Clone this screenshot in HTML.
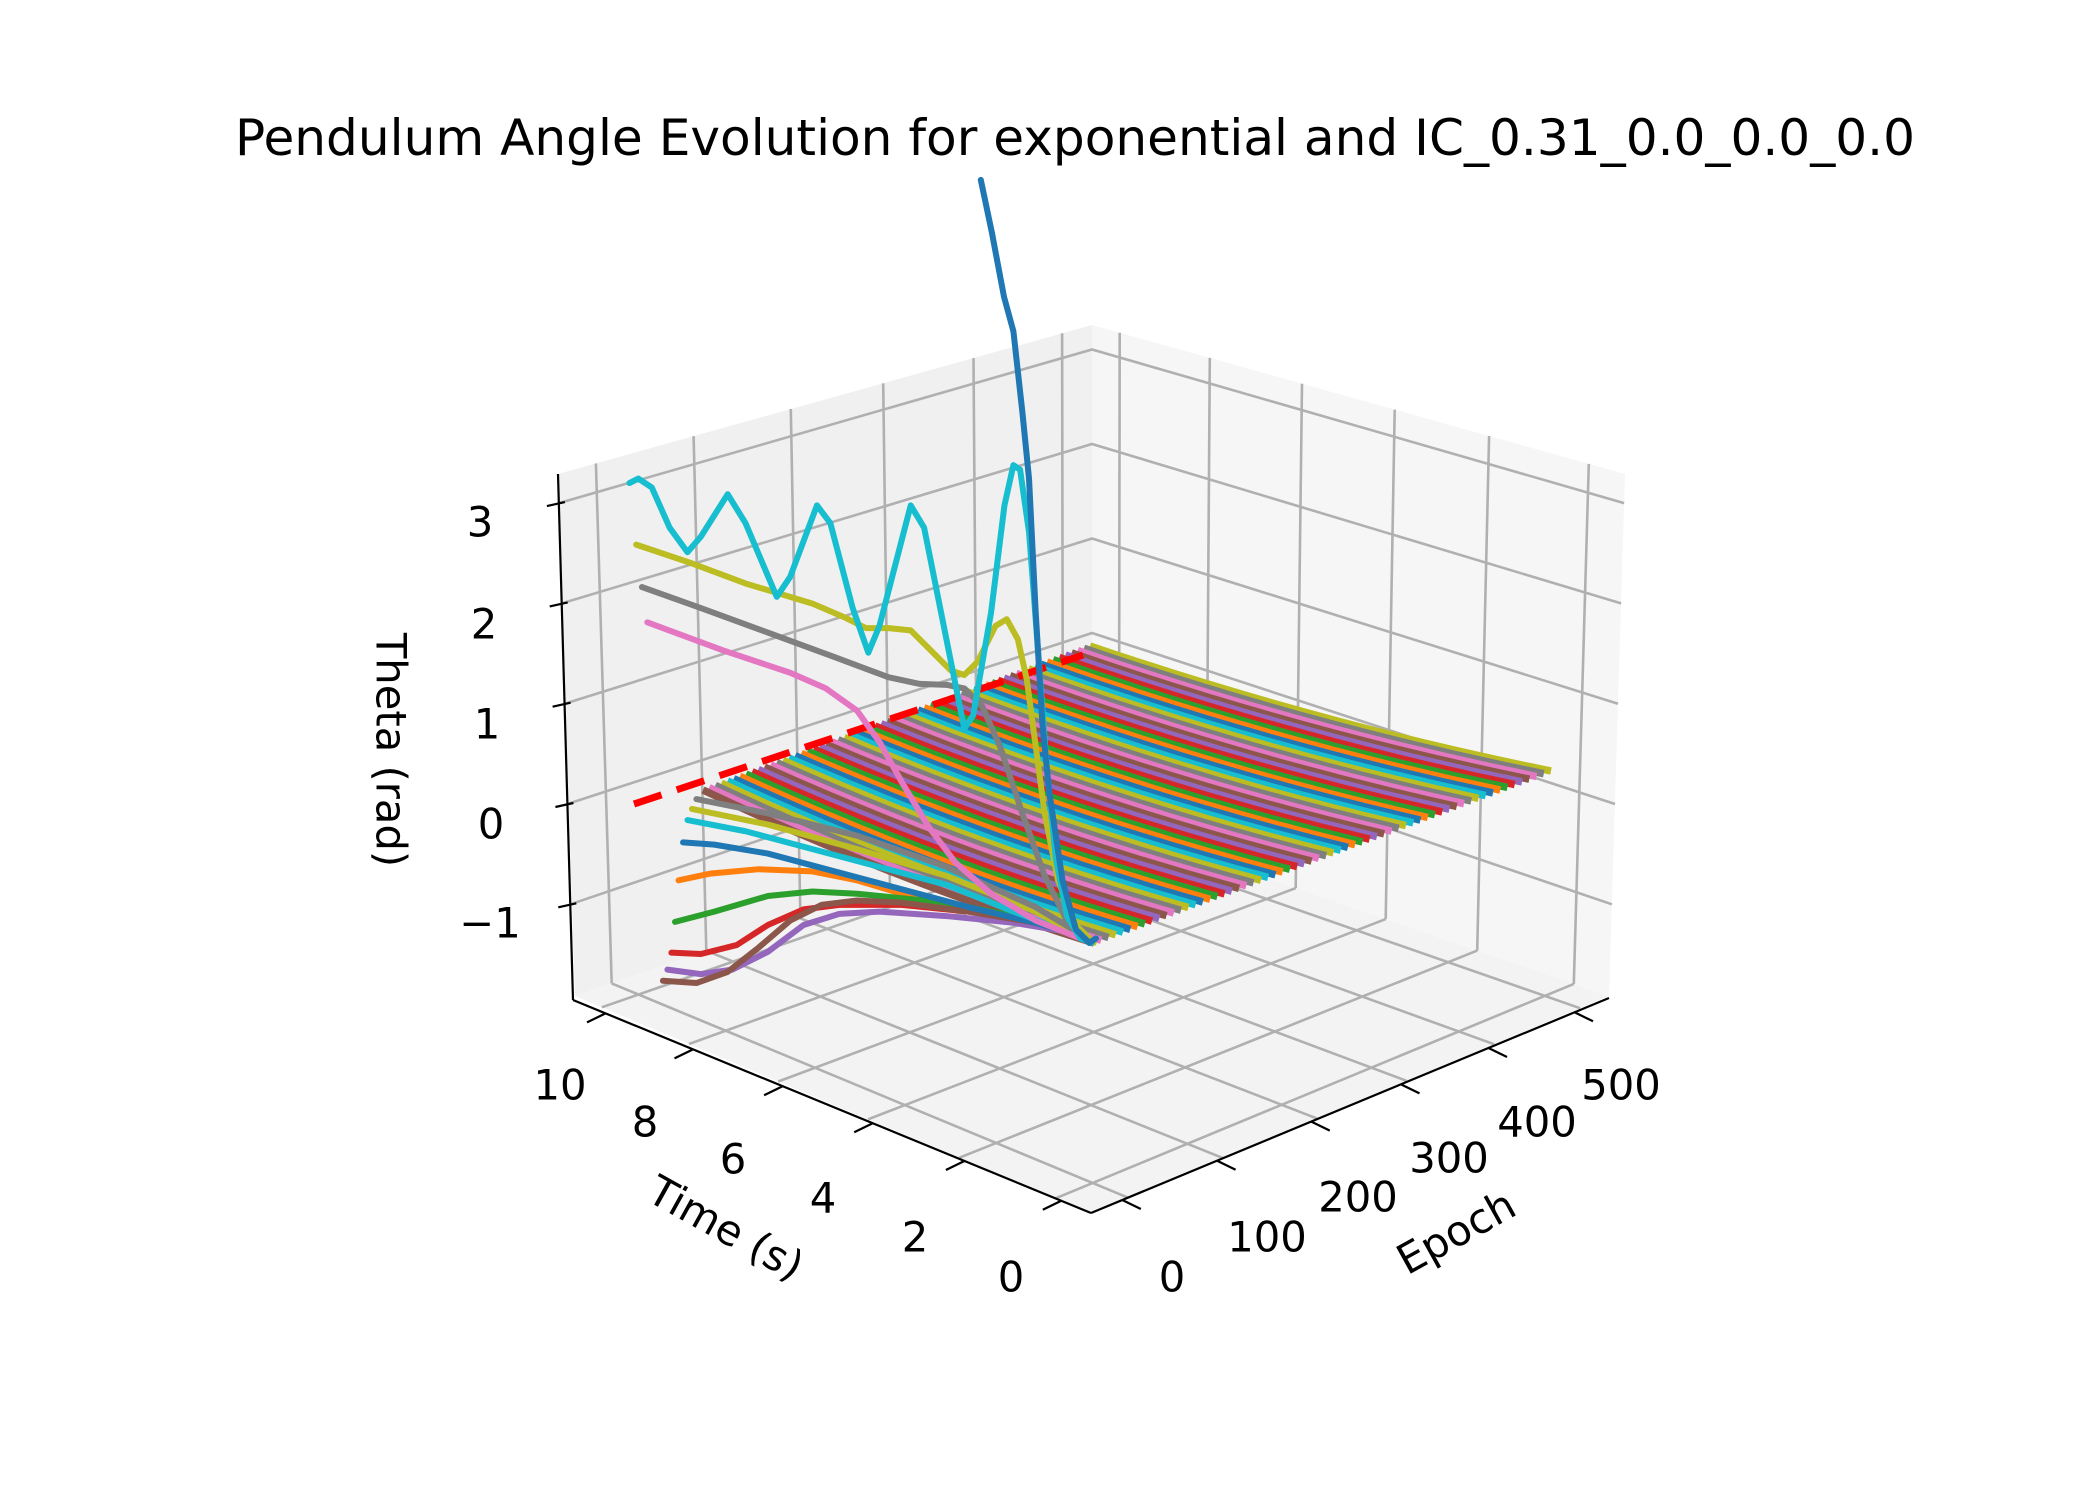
<!DOCTYPE html>
<html><head><meta charset="utf-8"><style>
html,body{margin:0;padding:0;background:#fff;}
svg{display:block;}
text{font-family:"DejaVu Sans","Liberation Sans",sans-serif;fill:#000;}
</style></head><body>
<svg xmlns="http://www.w3.org/2000/svg" width="2100" height="1500" viewBox="0 0 2100 1500">
<defs><path id="c" d="M0,0 Q0.5,16 1,0"/></defs>
<rect width="2100" height="1500" fill="#fff"/>
<polygon points="575,996 558,474 1092,325 1092,818" fill="#f0f0f0"/>
<polygon points="1092,818 1092,325 1625,474 1609,996" fill="#f6f6f6"/>
<polygon points="1091,1213 575,996 1092,818 1609,996" fill="#f3f3f3"/>
<g stroke="#b0b0b0" stroke-width="2.6" fill="none">
<line x1="1127.8" y1="1197.6" x2="611.7" y2="983.4"/><line x1="611.7" y1="983.4" x2="595.9" y2="463.4"/>
<line x1="1222.6" y1="1157.9" x2="706.3" y2="950.8"/><line x1="706.3" y1="950.8" x2="693.6" y2="436.2"/>
<line x1="1316.8" y1="1118.4" x2="800.4" y2="918.4"/><line x1="800.4" y1="918.4" x2="790.8" y2="409"/>
<line x1="1406.5" y1="1080.8" x2="889.9" y2="887.6"/><line x1="889.9" y1="887.6" x2="883.2" y2="383.3"/>
<line x1="1494" y1="1044.2" x2="977.2" y2="857.5"/><line x1="977.2" y1="857.5" x2="973.5" y2="358.1"/>
<line x1="1580" y1="1008.2" x2="1063" y2="828"/><line x1="1063" y1="828" x2="1062.1" y2="333.3"/>
<line x1="1055.9" y1="1198.2" x2="1573.8" y2="983.9"/><line x1="1573.8" y1="983.9" x2="1588.8" y2="463.9"/>
<line x1="959.4" y1="1157.7" x2="1477.2" y2="950.6"/><line x1="1477.2" y1="950.6" x2="1489.1" y2="436"/>
<line x1="868.1" y1="1119.3" x2="1385.7" y2="919.1"/><line x1="1385.7" y1="919.1" x2="1394.7" y2="409.6"/>
<line x1="778.3" y1="1081.5" x2="1295.7" y2="888.1"/><line x1="1295.7" y1="888.1" x2="1302" y2="383.7"/>
<line x1="689" y1="1044" x2="1206.3" y2="857.3"/><line x1="1206.3" y1="857.3" x2="1209.8" y2="357.9"/>
<line x1="601.8" y1="1007.3" x2="1118.9" y2="827.3"/><line x1="1118.9" y1="827.3" x2="1119.7" y2="332.7"/>
<polyline points="570.3,904.3 1092,727.5 1611.9,904.3"/>
<polyline points="567.4,804 1092,633 1615,804"/>
<polyline points="564.6,703.7 1092,538.5 1618,703.7"/>
<polyline points="561.7,603.4 1092,444 1621.1,603.4"/>
<polyline points="558.9,503.1 1092,349.5 1624.1,503.1"/>
</g>
<g stroke="#000" stroke-width="2.2" fill="none">
<line x1="1091" y1="1213" x2="573" y2="1000"/>
<line x1="1091" y1="1213" x2="1609" y2="998"/>
<line x1="573" y1="1000" x2="558" y2="474"/>
<line x1="1061.3" y1="1200.8" x2="1042.8" y2="1209.8"/>
<line x1="964.4" y1="1161" x2="945.9" y2="1170"/>
<line x1="872.7" y1="1123.3" x2="854.2" y2="1132.3"/>
<line x1="782.6" y1="1086.2" x2="764.1" y2="1095.2"/>
<line x1="693" y1="1049.4" x2="674.5" y2="1058.4"/>
<line x1="605.5" y1="1013.4" x2="587" y2="1022.4"/>
<line x1="1122.3" y1="1200" x2="1140.8" y2="1209"/>
<line x1="1217.1" y1="1160.7" x2="1235.6" y2="1169.7"/>
<line x1="1311.3" y1="1121.6" x2="1329.8" y2="1130.6"/>
<line x1="1401" y1="1084.4" x2="1419.5" y2="1093.4"/>
<line x1="1488.5" y1="1048" x2="1507" y2="1057"/>
<line x1="1574.5" y1="1012.3" x2="1593" y2="1021.3"/>
<line x1="558.3" y1="907.3" x2="576.3" y2="903.3"/>
<line x1="555.4" y1="807" x2="573.4" y2="803"/>
<line x1="552.6" y1="706.7" x2="570.6" y2="702.7"/>
<line x1="549.7" y1="606.4" x2="567.7" y2="602.4"/>
<line x1="546.9" y1="506.1" x2="564.9" y2="502.1"/>
</g>
<g fill="none" stroke-width="7.5">
<use href="#c" vector-effect="non-scaling-stroke" stroke="#bcbd22" transform="matrix(461,125,0,1,1090,646)"/>
<use href="#c" stroke="#7f7f7f" transform="matrix(459.9,125.4,0,1,1083.9,648.3)"/>
<use href="#c" stroke="#e377c2" transform="matrix(458.8,125.9,0,1,1077.7,650.6)"/>
<use href="#c" stroke="#8c564b" transform="matrix(457.7,126.3,0,1,1071.6,652.9)"/>
<use href="#c" stroke="#9467bd" transform="matrix(456.6,126.8,0,1,1065.4,655.1)"/>
<use href="#c" stroke="#d62728" transform="matrix(455.4,127.2,0,1,1059.3,657.4)"/>
<use href="#c" stroke="#2ca02c" transform="matrix(454.3,127.7,0,1,1053.1,659.7)"/>
<use href="#c" stroke="#ff7f0e" transform="matrix(453.2,128.1,0,1,1047,662)"/>
<use href="#c" stroke="#1f77b4" transform="matrix(452.1,128.6,0,1,1040.9,664.3)"/>
<use href="#c" stroke="#17becf" transform="matrix(451,129,0,1,1034.7,666.6)"/>
<use href="#c" stroke="#bcbd22" transform="matrix(449.9,129.4,0,1,1028.6,668.9)"/>
<use href="#c" stroke="#7f7f7f" transform="matrix(448.8,129.9,0,1,1022.4,671.1)"/>
<use href="#c" stroke="#e377c2" transform="matrix(447.7,130.3,0,1,1016.3,673.4)"/>
<use href="#c" stroke="#8c564b" transform="matrix(446.6,130.8,0,1,1010.1,675.7)"/>
<use href="#c" stroke="#9467bd" transform="matrix(445.4,131.2,0,1,1004,678)"/>
<use href="#c" stroke="#d62728" transform="matrix(444.3,131.7,0,1,997.9,680.3)"/>
<use href="#c" stroke="#2ca02c" transform="matrix(443.2,132.1,0,1,991.7,682.6)"/>
<use href="#c" stroke="#ff7f0e" transform="matrix(442.1,132.6,0,1,985.6,684.9)"/>
<use href="#c" stroke="#1f77b4" transform="matrix(441,133,0,1,979.4,687.1)"/>
<use href="#c" stroke="#17becf" transform="matrix(439.9,133.4,0,1,973.3,689.4)"/>
<use href="#c" stroke="#bcbd22" transform="matrix(438.8,133.9,0,1,967.1,691.7)"/>
<use href="#c" stroke="#7f7f7f" transform="matrix(437.7,134.3,0,1,961,694)"/>
<use href="#c" stroke="#e377c2" transform="matrix(436.6,134.8,0,1,954.9,696.3)"/>
<use href="#c" stroke="#8c564b" transform="matrix(435.4,135.2,0,1,948.7,698.6)"/>
<use href="#c" stroke="#9467bd" transform="matrix(434.3,135.7,0,1,942.6,700.9)"/>
<use href="#c" stroke="#d62728" transform="matrix(433.2,136.1,0,1,936.4,703.1)"/>
<use href="#c" stroke="#2ca02c" transform="matrix(432.1,136.6,0,1,930.3,705.4)"/>
<use href="#c" stroke="#ff7f0e" transform="matrix(431,137,0,1,924.1,707.7)"/>
<use href="#c" stroke="#1f77b4" transform="matrix(429.9,137.4,0,1,918,710)"/>
<use href="#c" stroke="#17becf" transform="matrix(428.8,137.9,0,1,911.9,712.3)"/>
<use href="#c" stroke="#bcbd22" transform="matrix(427.7,138.3,0,1,905.7,714.6)"/>
<use href="#c" stroke="#7f7f7f" transform="matrix(426.6,138.8,0,1,899.6,716.9)"/>
<use href="#c" stroke="#e377c2" transform="matrix(425.4,139.2,0,1,893.4,719.1)"/>
<use href="#c" stroke="#8c564b" transform="matrix(424.3,139.7,0,1,887.3,721.4)"/>
<use href="#c" stroke="#9467bd" transform="matrix(423.2,140.1,0,1,881.1,723.7)"/>
<use href="#c" stroke="#d62728" transform="matrix(422.1,140.6,0,1,875,726)"/>
<use href="#c" stroke="#2ca02c" transform="matrix(421,141,0,1,868.9,728.3)"/>
<use href="#c" stroke="#ff7f0e" transform="matrix(419.9,141.4,0,1,862.7,730.6)"/>
<use href="#c" stroke="#1f77b4" transform="matrix(418.8,141.9,0,1,856.6,732.9)"/>
<use href="#c" stroke="#17becf" transform="matrix(417.7,142.3,0,1,850.4,735.1)"/>
<use href="#c" stroke="#bcbd22" transform="matrix(416.6,142.8,0,1,844.3,737.4)"/>
<use href="#c" stroke="#7f7f7f" transform="matrix(415.4,143.2,0,1,838.1,739.7)"/>
<use href="#c" stroke="#e377c2" transform="matrix(414.3,143.7,0,1,832,742)"/>
<use href="#c" stroke="#8c564b" transform="matrix(413.2,144.1,0,1,825.9,744.3)"/>
<use href="#c" stroke="#9467bd" transform="matrix(412.1,144.6,0,1,819.7,746.6)"/>
<use href="#c" stroke="#d62728" transform="matrix(411,145,0,1,813.6,748.9)"/>
<use href="#c" stroke="#2ca02c" transform="matrix(409.9,145.4,0,1,807.4,751.1)"/>
<use href="#c" stroke="#ff7f0e" transform="matrix(408.8,145.9,0,1,801.3,753.4)"/>
<use href="#c" stroke="#1f77b4" transform="matrix(407.7,146.3,0,1,795.1,755.7)"/>
<use href="#c" stroke="#17becf" transform="matrix(406.6,146.8,0,1,789,758)"/>
<use href="#c" stroke="#bcbd22" transform="matrix(405.4,147.2,0,1,782.9,760.3)"/>
<use href="#c" stroke="#7f7f7f" transform="matrix(404.3,147.7,0,1,776.7,762.6)"/>
<use href="#c" stroke="#e377c2" transform="matrix(403.2,148.1,0,1,770.6,764.9)"/>
<use href="#c" stroke="#8c564b" transform="matrix(402.1,148.6,0,1,764.4,767.1)"/>
<use href="#c" stroke="#9467bd" transform="matrix(401,149,0,1,758.3,769.4)"/>
<use href="#c" stroke="#d62728" transform="matrix(399.9,149.4,0,1,752.1,771.7)"/>
<use href="#c" stroke="#2ca02c" transform="matrix(398.8,149.9,0,1,746,774)"/>
<use href="#c" stroke="#ff7f0e" transform="matrix(397.7,150.3,0,1,739.9,776.3)"/>
<use href="#c" stroke="#1f77b4" transform="matrix(396.6,150.8,0,1,733.7,778.6)"/>
<use href="#c" stroke="#17becf" transform="matrix(395.4,151.2,0,1,727.6,780.9)"/>
<use href="#c" stroke="#bcbd22" transform="matrix(394.3,151.7,0,1,721.4,783.1)"/>
<use href="#c" stroke="#7f7f7f" transform="matrix(393.2,152.1,0,1,715.3,785.4)"/>
<use href="#c" stroke="#e377c2" transform="matrix(392.1,152.6,0,1,709.1,787.7)"/>
<use href="#c" stroke="#8c564b" transform="matrix(391,153,0,1,703,790)"/>
</g>
<style>use{vector-effect:non-scaling-stroke;} #c{vector-effect:non-scaling-stroke;}</style>
<line x1="634" y1="804" x2="1083" y2="655" stroke="#ff0000" stroke-width="7" stroke-dasharray="29 16"/>
<g transform="translate(500 300) scale(0.44643)" fill="none" stroke-linejoin="round" stroke-linecap="round">
<polyline vector-effect="non-scaling-stroke" stroke-width="6" stroke="#ff7f0e" points="400,1300 470,1285 580,1275 700,1280 800,1300 900,1330 1000,1355 1100,1375 1200,1390 1300,1420"/>
<polyline vector-effect="non-scaling-stroke" stroke-width="6" stroke="#2ca02c" points="392,1393 480,1370 600,1335 700,1325 800,1330 900,1340 1000,1350 1100,1370 1200,1390 1300,1420"/>
<polyline vector-effect="non-scaling-stroke" stroke-width="6" stroke="#d62728" points="384,1462 450,1465 530,1445 600,1400 680,1365 760,1355 900,1355 1050,1370 1200,1395 1300,1420"/>
<polyline vector-effect="non-scaling-stroke" stroke-width="6" stroke="#9467bd" points="375,1500 450,1510 520,1500 600,1460 680,1400 760,1375 850,1370 1000,1380 1150,1395 1300,1420"/>
<polyline vector-effect="non-scaling-stroke" stroke-width="6" stroke="#8c564b" points="365,1525 440,1530 510,1505 580,1450 650,1390 720,1355 800,1345 900,1350 1050,1370 1200,1395 1300,1420"/>
<polyline vector-effect="non-scaling-stroke" stroke-width="6" stroke="#1f77b4" points="410,1215 480,1220 600,1240 750,1280 900,1320 1050,1360 1200,1395 1300,1425"/>
<polyline vector-effect="non-scaling-stroke" stroke-width="6" stroke="#17becf" points="420,1165 550,1190 700,1230 850,1270 1000,1310 1150,1370 1300,1425"/>
<polyline vector-effect="non-scaling-stroke" stroke-width="6" stroke="#bcbd22" points="430,1140 600,1175 800,1230 1000,1290 1200,1370 1300,1425"/>
<polyline vector-effect="non-scaling-stroke" stroke-width="6" stroke="#7f7f7f" points="440,1118 600,1150 800,1200 1000,1270 1200,1360 1300,1420"/>
<polyline vector-effect="non-scaling-stroke" stroke-width="6" stroke="#e377c2" points="330,722 500,785 650,835 730,870 800,920 850,990 900,1080 960,1180 1020,1260 1100,1330 1200,1390 1300,1430"/>
<polyline vector-effect="non-scaling-stroke" stroke-width="6" stroke="#7f7f7f" points="318,643 450,690 600,745 750,800 870,845 940,860 1000,862 1040,870 1080,910 1120,1000 1170,1150 1220,1290 1270,1390 1320,1440"/>
<polyline vector-effect="non-scaling-stroke" stroke-width="6" stroke="#bcbd22" points="305,548 430,590 550,635 700,680 770,710 820,735 870,735 920,740 970,790 1010,830 1040,840 1070,810 1110,730 1135,715 1160,760 1180,850 1200,1000 1220,1150 1250,1300 1290,1400 1330,1440"/>
<polyline vector-effect="non-scaling-stroke" stroke-width="6" stroke="#17becf" points="290,410 310,400 340,420 380,510 420,565 450,530 510,435 550,500 620,665 650,620 710,460 740,500 790,690 825,790 850,730 920,460 950,510 1000,760 1040,960 1060,930 1100,700 1130,460 1150,370 1165,380 1185,520 1195,650 1210,850 1225,1050 1245,1250 1270,1380 1300,1430 1325,1440"/>
<polyline vector-effect="non-scaling-stroke" stroke-width="6" stroke="#1f77b4" points="1077,-269 1102,-150 1129,-7 1150,70 1170,250 1185,400 1200,700 1215,950 1230,1100 1260,1300 1290,1410 1320,1440 1335,1430"/>
</g>
<g font-size="41.7" text-anchor="middle" dominant-baseline="central">
<text x="480" y="522">3</text>
<text x="484" y="624">2</text>
<text x="487" y="724">1</text>
<text x="491" y="824">0</text>
<text x="490" y="923">−1</text>
<text x="560" y="1085">10</text>
<text x="645" y="1122">8</text>
<text x="733" y="1159">6</text>
<text x="823" y="1198">4</text>
<text x="915" y="1237">2</text>
<text x="1011" y="1277">0</text>
<text x="1172" y="1277">0</text>
<text x="1267" y="1237">100</text>
<text x="1358" y="1197">200</text>
<text x="1449" y="1158">300</text>
<text x="1537" y="1122">400</text>
<text x="1621" y="1085">500</text>
<text transform="translate(726 1228) rotate(29)">Time (s)</text>
<text transform="translate(1456 1232) rotate(-29)">Epoch</text>
<text transform="translate(391 750) rotate(90)">Theta (rad)</text>
</g>
<text x="1075" y="155" font-size="50" text-anchor="middle" textLength="1680" lengthAdjust="spacingAndGlyphs">Pendulum Angle Evolution for exponential and IC_0.31_0.0_0.0_0.0</text>
</svg>
</body></html>
